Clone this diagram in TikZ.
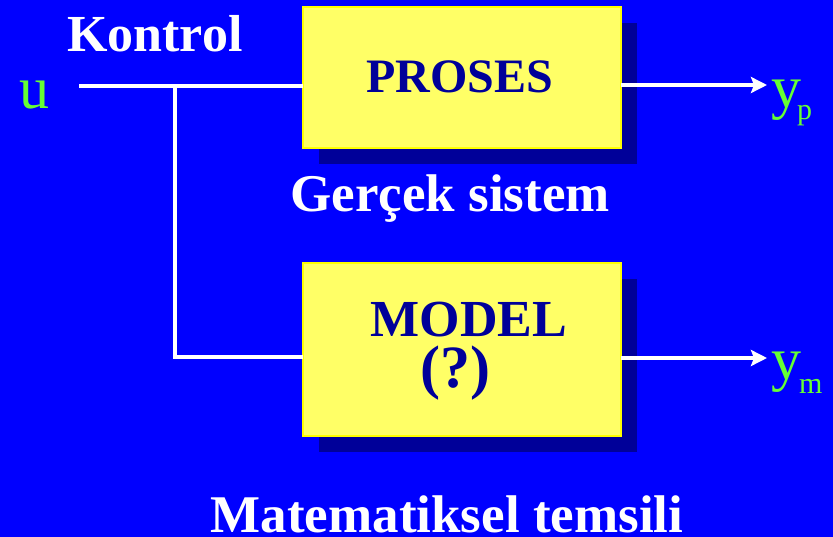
\documentclass[tikz,border=0pt]{standalone}
\usepackage{fontspec}
\setmainfont{Liberation Serif}
\usetikzlibrary{arrows.meta,shadows}
\definecolor{bgblue}{HTML}{0000FF}
\definecolor{boxfill}{HTML}{FFFF66}
\definecolor{boxedge}{HTML}{FFFF00}
\definecolor{navy}{HTML}{000099}
\definecolor{sigreen}{HTML}{66FF33}
\tikzset{
  blockbox/.style={draw=boxedge, line width=2pt, fill=boxfill, minimum width=318pt, inner sep=0pt, outer sep=0pt,
    drop shadow={shadow xshift=16pt, shadow yshift=-16pt, fill=navy, opacity=1}},
  boxtext/.style={text=navy, font=\bfseries\fontsize{52}{56}\selectfont, inner sep=0pt, anchor=base},
  wtext/.style={text=white, font=\bfseries\fontsize{53}{57}\selectfont, inner sep=0pt},
  sig/.style={text=sigreen, font=\fontsize{60}{64}\selectfont, inner sep=0pt, anchor=base west},
  subsig/.style={text=sigreen, font=\fontsize{30}{34}\selectfont, inner sep=0pt, anchor=base west},
  wire/.style={draw=white, line width=4pt},
  arrowwire/.style={wire, -{Stealth[length=16pt,width=16pt,inset=3pt]}}
}
\begin{document}
\begin{tikzpicture}[x=1pt,y=-1pt]
\useasboundingbox (0,0) rectangle (833,537);
\fill[bgblue] (0,0) rectangle (833,537);
% boxes
\node[blockbox, minimum height=141pt] (proses) at (462,77.5) {};
\node[blockbox, minimum height=173pt] (model) at (462,349.5) {};
% box texts
\node[boxtext, font=\bfseries\fontsize{48}{52}\selectfont] (prosestxt) at (460,93) {PROSES};
\node[boxtext] (modeltxt) at (469,337) {MODEL};
\node[boxtext, font=\bfseries\fontsize{60}{64}\selectfont] (qtxt) at (455,388) {(?)};
% plain texts
\node[wtext, anchor=base west, font=\bfseries\fontsize{52}{56}\selectfont] (kontrol) at (67,52) {Kontrol};
\node[wtext, anchor=base] (gercek) at (450,212) {Gerçek sistem};
\node[wtext, anchor=base] (matem) at (447,532) {Matematiksel temsili};
% signals
\node[sig] (u) at (19,109) {u};
\node[sig] (yp) at (771,108) {y};
\node[subsig] (ypsub) at (797,120) {p};
\node[subsig] (ymsub) at (799,393) {m};
\node[sig] (ym) at (771,380) {y};
% connectors
\coordinate (uin) at (79,86);
\coordinate (br) at (175,86);
\coordinate (pout) at (767,85);
\coordinate (mout) at (767,358);
\draw[wire] (uin) -- (uin -| proses.west);
\draw[wire] (br) |- ([yshift=-7.5pt]model.west);
\draw[arrowwire] (proses.east |- pout) -- (pout);
\draw[arrowwire] (model.east |- mout) -- (mout);
\end{tikzpicture}
\end{document}
